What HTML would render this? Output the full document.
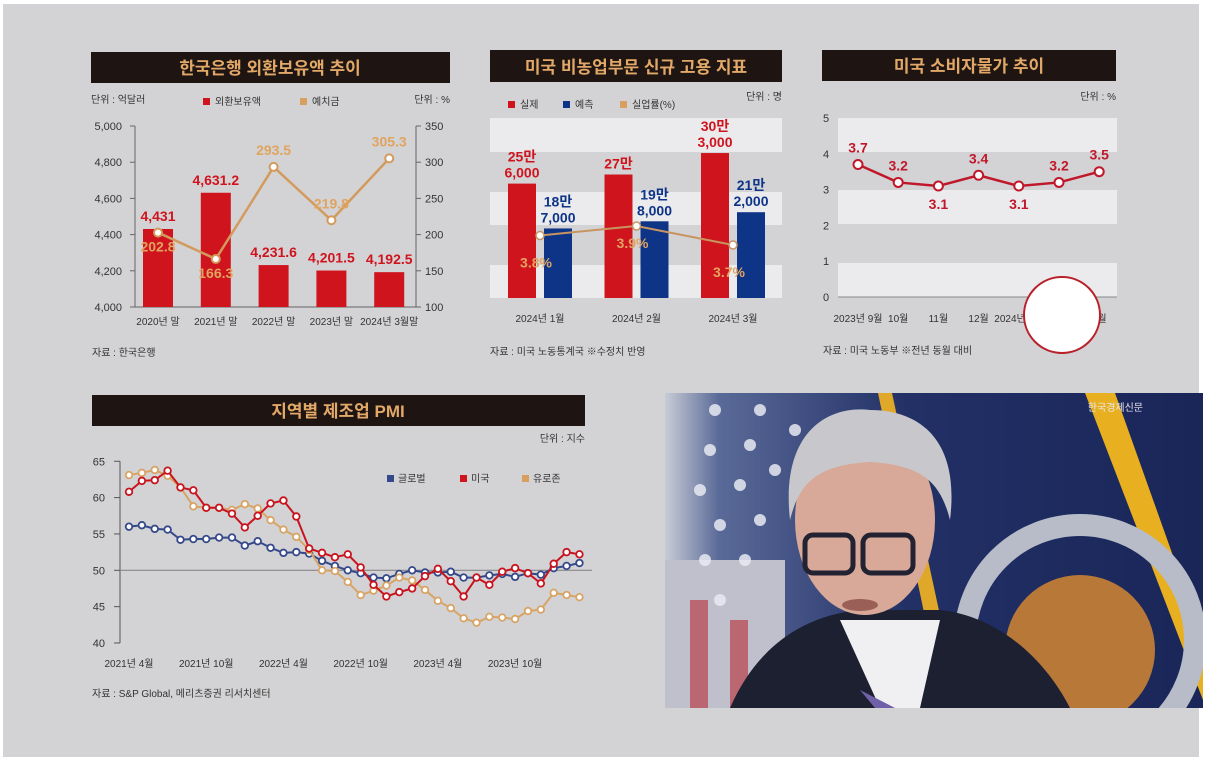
<!DOCTYPE html>
<html><head><meta charset="utf-8">
<style>
body{margin:0;width:1205px;height:761px;background:#fff;overflow:hidden;font-family:"Liberation Sans","Noto Sans CJK KR",sans-serif;}
svg text{font-family:"Liberation Sans","Noto Sans CJK KR",sans-serif;}
</style></head>
<body>
<svg id="root" width="1205" height="761" xmlns="http://www.w3.org/2000/svg">
<rect x="3" y="4" width="1196" height="753" fill="#d3d3d5"/>

<g id="c1">
<rect x="91" y="52" width="359" height="31" fill="#1e1512"/>
<text x="270" y="74" text-anchor="middle" font-size="17" font-weight="bold" fill="#e2a868">한국은행 외환보유액 추이</text>
<text x="91" y="103" font-size="10" fill="#333">단위 : 억달러</text>
<text x="450" y="103" text-anchor="end" font-size="10" fill="#333">단위 : %</text>
<rect x="203" y="98" width="7" height="7" fill="#d0141e"/>
<text x="215" y="105" font-size="10" fill="#333">외환보유액</text>
<rect x="300" y="98" width="7" height="7" fill="#d8a060"/>
<text x="312" y="105" font-size="10" fill="#333">예치금</text>
</g>

<g id="c2">
<rect x="490" y="50" width="292" height="32" fill="#1e1512"/>
<text x="636" y="73" text-anchor="middle" font-size="17" font-weight="bold" fill="#e2a868">미국 비농업부문 신규 고용 지표</text>
<text x="782" y="100" text-anchor="end" font-size="10" fill="#333">단위 : 명</text>
<rect x="508" y="101" width="7" height="7" fill="#d0141e"/>
<text x="520" y="108" font-size="10" fill="#333">실제</text>
<rect x="563" y="101" width="7" height="7" fill="#0e3488"/>
<text x="575" y="108" font-size="10" fill="#333">예측</text>
<rect x="620" y="101" width="7" height="7" fill="#d8a060"/>
<text x="632" y="108" font-size="10" fill="#333">실업률(%)</text>
<rect x="490" y="118" width="292" height="34" fill="#ebebed"/>
<rect x="490" y="192" width="292" height="33" fill="#ebebed"/>
<rect x="490" y="265" width="292" height="33" fill="#ebebed"/>
<text x="490" y="355" font-size="10" fill="#333">자료 : 미국 노동통계국 ※수정치 반영</text>
</g>

<g id="c3">
<rect x="822" y="50" width="294" height="31" fill="#1e1512"/>
<text x="969" y="72" text-anchor="middle" font-size="17" font-weight="bold" fill="#e2a868">미국 소비자물가 추이</text>
<text x="1116" y="100" text-anchor="end" font-size="10" fill="#333">단위 : %</text>
<rect x="838" y="118" width="279" height="34" fill="#ebebed"/>
<rect x="838" y="190" width="279" height="34" fill="#ebebed"/>
<rect x="838" y="263" width="279" height="34" fill="#ebebed"/>
<line x1="838" y1="297" x2="1117" y2="297" stroke="#888" stroke-width="1"/>
<text x="823" y="354" font-size="10" fill="#333">자료 : 미국 노동부 ※전년 동월 대비</text>
</g>

<g id="c4">
<rect x="92" y="395" width="493" height="31" fill="#1e1512"/>
<text x="338" y="417" text-anchor="middle" font-size="17" font-weight="bold" fill="#e2a868">지역별 제조업 PMI</text>
<text x="585" y="442" text-anchor="end" font-size="10" fill="#333">단위 : 지수</text>
<rect x="387" y="475" width="7" height="7" fill="#34488a"/>
<text x="398" y="482" font-size="10" fill="#333">글로벌</text>
<rect x="460" y="475" width="7" height="7" fill="#d0141e"/>
<text x="471" y="482" font-size="10" fill="#333">미국</text>
<rect x="522" y="475" width="7" height="7" fill="#d8a060"/>
<text x="533" y="482" font-size="10" fill="#333">유로존</text>
<text x="92" y="697" font-size="10" fill="#333">자료 : S&amp;P Global, 메리츠증권 리서치센터</text>
</g>

<g>
<defs>
<linearGradient id="bgG" x1="0" x2="1" y1="0" y2="0">
<stop offset="0" stop-color="#c8ccd6"/><stop offset="0.1" stop-color="#5a6a98"/><stop offset="0.45" stop-color="#223066"/><stop offset="1" stop-color="#1a2658"/>
</linearGradient>
<clipPath id="pc"><rect x="665" y="393" width="538" height="315"/></clipPath>
</defs>
<g clip-path="url(#pc)">
<rect x="665" y="393" width="538" height="315" fill="url(#bgG)"/>
<rect x="665" y="560" width="120" height="150" fill="#c0c0cc"/>
<rect x="690" y="600" width="18" height="110" fill="#b8505a" opacity="0.8"/>
<rect x="730" y="620" width="18" height="90" fill="#b8505a" opacity="0.8"/>
<g fill="#e8eaf2" opacity="0.85">
<circle cx="715" cy="410" r="6"/><circle cx="760" cy="410" r="6"/><circle cx="710" cy="450" r="6"/><circle cx="750" cy="445" r="6"/><circle cx="795" cy="430" r="6"/><circle cx="700" cy="490" r="6"/><circle cx="740" cy="485" r="6"/><circle cx="775" cy="470" r="6"/><circle cx="720" cy="525" r="6"/><circle cx="760" cy="520" r="6"/><circle cx="705" cy="560" r="6"/><circle cx="745" cy="560" r="6"/><circle cx="720" cy="600" r="6"/>
</g>
<polygon points="878,393 892,393 960,708 944,708" fill="#e0a828"/>
<polygon points="1085,393 1115,393 1203,640 1203,700" fill="#e8b020"/>
<circle cx="1080" cy="640" r="115" fill="none" stroke="#b8bcc8" stroke-width="22"/>
<circle cx="1080" cy="650" r="75" fill="#b87838"/>
<path d="M730,708 C760,640 810,615 860,610 L940,610 C990,615 1040,650 1070,708 Z" fill="#1c2030"/>
<path d="M840,620 L880,708 L920,708 L940,620 Z" fill="#f0f0f2"/>
<polygon points="860,690 895,708 875,708" fill="#7060a8"/>
<ellipse cx="865" cy="520" rx="70" ry="95" fill="#d8a898"/>
<path d="M790,520 C780,430 830,405 870,410 C920,410 960,440 950,520 C940,480 920,465 870,462 C820,465 800,480 790,520 Z" fill="#c8c8cc"/>
<rect x="805" y="535" width="48" height="38" rx="8" fill="none" stroke="#223" stroke-width="5"/>
<rect x="863" y="535" width="50" height="38" rx="8" fill="none" stroke="#223" stroke-width="5"/>
<ellipse cx="860" cy="605" rx="18" ry="6" fill="#9a6058"/>
</g>
<text x="1143" y="411" text-anchor="end" font-size="10" fill="#e8e8f0">한국경제신문</text>
</g>
<circle cx="1062" cy="315" r="38" fill="#fff" stroke="#b8202a" stroke-width="2"/>
</svg>

<script>
const NS="http://www.w3.org/2000/svg";
function mk(parent,tag,attrs,text){const e=document.createElementNS(NS,tag);for(const k in attrs)e.setAttribute(k,attrs[k]);if(text!==undefined)e.textContent=text;document.getElementById(parent).appendChild(e);return e;}

const c1Categories=["2020년 말","2021년 말","2022년 말","2023년 말","2024년 3월말"];
const c1Reserves=[4431,4631.2,4231.6,4201.5,4192.5];
const c1ReserveLabels=["4,431","4,631.2","4,231.6","4,201.5","4,192.5"];
const c1Deposits=[202.8,166.3,293.5,219.8,305.3];
const c1LeftTicks=[4000,4200,4400,4600,4800,5000];
const c1LeftTickLabels=["4,000","4,200","4,400","4,600","4,800","5,000"];
const c1RightTicks=[100,150,200,250,300,350];

const c2Categories=["2024년 1월","2024년 2월","2024년 3월"];
const c2Actual=[256000,270000,303000];
const c2ActualLabels=[["25만","6,000"],["27만"],["30만","3,000"]];
const c2Forecast=[187000,198000,212000];
const c2ForecastLabels=[["18만","7,000"],["19만","8,000"],["21만","2,000"]];
const c2Unemployment=[3.8,3.9,3.7];

const c3Categories=["2023년 9월","10월","11월","12월","2024년 1월","2월","3월"];
const c3Values=[3.7,3.2,3.1,3.4,3.1,3.2,3.5];
const c3Ticks=[0,1,2,3,4,5];

const c4Global=[56,56.2,55.7,55.6,54.2,54.3,54.3,54.5,54.5,53.4,54,53.1,52.4,52.5,52.3,51.3,50.6,50,49.6,49,48.9,49.5,50,49.7,49.7,49.8,49,49,49.3,49.5,49.1,49.6,49.4,50.3,50.6,51];
const c4US=[60.8,62.3,62.4,63.7,61.4,61,58.6,58.6,57.8,55.9,57.5,59.2,59.6,57.4,53,52.4,51.8,52.2,50.4,48,46.4,47,47.5,49.2,50.2,48.5,46.4,49,48,49.8,50.3,49.6,48.2,50.9,52.5,52.2];
const c4Euro=[63.1,63.4,63.8,63,61.4,58.8,58.6,58.6,58.3,59.1,58.5,56.9,55.6,54.6,52.8,50,49.9,48.4,46.6,47.2,47.9,49,48.6,47.3,45.8,44.8,43.4,42.8,43.6,43.5,43.3,44.4,44.6,46.9,46.6,46.3];
const c4Ticks=[40,45,50,55,60,65];
const c4XLabels=["2021년 4월","2021년 10월","2022년 4월","2022년 10월","2023년 4월","2023년 10월"];
const c4XLabelIdx=[0,6,12,18,24,30];

(function(){
  const y0=307,y1=126;
  const yL=v=>y0-(v-4000)/1000*(y0-y1);
  const yR=v=>y0-(v-100)/250*(y0-y1);
  const x=i=>158+i*57.8;
  mk("c1","line",{x1:135,y1:y1,x2:135,y2:y0,stroke:"#666","stroke-width":1});
  mk("c1","line",{x1:135,y1:y0,x2:416,y2:y0,stroke:"#666","stroke-width":1});
  mk("c1","line",{x1:416,y1:y1,x2:416,y2:y0,stroke:"#666","stroke-width":1});
  c1LeftTicks.forEach((t,i)=>{
    mk("c1","line",{x1:130,y1:yL(t),x2:135,y2:yL(t),stroke:"#666"});
    const e=mk("c1","text",{x:122,y:yL(t)+4,"text-anchor":"end","font-size":11,fill:"#333"},c1LeftTickLabels[i]);
    
    
  });
  c1RightTicks.forEach(t=>{
    mk("c1","line",{x1:416,y1:yR(t),x2:421,y2:yR(t),stroke:"#666"});
    const e=mk("c1","text",{x:425,y:yR(t)+4,"font-size":11,fill:"#333"},String(t));
    
    
  });
  c1Reserves.forEach((v,i)=>{
    const b=mk("c1","rect",{x:x(i)-15,y:yL(v),width:30,height:y0-yL(v),fill:"#d0141e"});
    
    
    const l=mk("c1","text",{x:x(i),y:yL(v)-8,"text-anchor":"middle","font-size":14,"font-weight":"bold",fill:"#d0141e"},c1ReserveLabels[i]);
    
    
    const c=mk("c1","text",{x:x(i),y:325,"text-anchor":"middle","font-size":10,fill:"#333"},c1Categories[i]);
    
    
  });
  const pts=c1Deposits.map((v,i)=>x(i)+","+yR(v)).join(" ");
  const pl=mk("c1","polyline",{points:pts,fill:"none",stroke:"#d39a5e","stroke-width":2.5});
  
  
  c1Deposits.forEach((v,i)=>{
    const p=mk("c1","circle",{cx:x(i),cy:yR(v),r:4,fill:"#fff",stroke:"#d39a5e","stroke-width":2});
    
    
    const below=i<2;
    const l=mk("c1","text",{x:x(i),y:below?yR(v)+19:yR(v)-12,"text-anchor":"middle","font-size":14,"font-weight":"bold",fill:"#e0a460"},v.toFixed(1));
    
    
  });
  const s=mk("c1","text",{x:92,y:356,"font-size":10,fill:"#333"},"자료 : 한국은행");
  
  
})();

(function(){
  const base=298;
  const h=v=>(v-80000)*0.00065;
  const cx=i=>540+i*96.5;
  const yU=v=>235.5-(v-3.8)*95;
  c2Actual.forEach((v,i)=>{
    const b=mk("c2","rect",{x:cx(i)-32,y:base-h(v),width:28,height:h(v),fill:"#d0141e"});
    
    
    const lines=c2ActualLabels[i];
    lines.forEach((t,j)=>{
      const l=mk("c2","text",{x:cx(i)-18,y:base-h(v)-6-(lines.length-1-j)*16,"text-anchor":"middle","font-size":14,"font-weight":"bold",fill:"#d0141e"},t);
      
      
    });
    const f=c2Forecast[i];
    const b2=mk("c2","rect",{x:cx(i)+4,y:base-h(f),width:28,height:h(f),fill:"#0e3488"});
    
    
    c2ForecastLabels[i].forEach((t,j)=>{
      const l=mk("c2","text",{x:cx(i)+18,y:base-h(f)-6-(1-j)*16,"text-anchor":"middle","font-size":14,"font-weight":"bold",fill:"#0e3488"},t);
      
      
    });
    const c=mk("c2","text",{x:cx(i),y:322,"text-anchor":"middle","font-size":10,fill:"#333"},c2Categories[i]);
    
    
  });
  const pts=c2Unemployment.map((v,i)=>cx(i)+","+yU(v)).join(" ");
  const pl=mk("c2","polyline",{points:pts,fill:"none",stroke:"#c89460","stroke-width":2});
  
  
  c2Unemployment.forEach((v,i)=>{
    const p=mk("c2","circle",{cx:cx(i),cy:yU(v),r:4,fill:"#fff",stroke:"#c89460","stroke-width":1.5});
    
    
    const l=mk("c2","text",{x:cx(i)-4,y:yU(v)+(i==1?22:32),"text-anchor":"middle","font-size":14,"font-weight":"bold",fill:"#e0a460"},v.toFixed(1)+"%");
    
    
  });
})();

(function(){
  const y=v=>297-v*35.8;
  const x=i=>858+i*40.2;
  c3Ticks.forEach(t=>{
    const e=mk("c3","text",{x:826,y:y(t)+4,"text-anchor":"middle","font-size":11,fill:"#333"},String(t));
    
    
  });
  c3Categories.forEach((c,i)=>{
    const e=mk("c3","text",{x:x(i),y:322,"text-anchor":"middle","font-size":10,fill:"#333"},c);
    
    
  });
  const pts=c3Values.map((v,i)=>x(i)+","+y(v)).join(" ");
  const pl=mk("c3","polyline",{points:pts,fill:"none",stroke:"#c0182a","stroke-width":2.5});
  
  
  const above=[1,1,0,1,0,1,1];
  c3Values.forEach((v,i)=>{
    const p=mk("c3","circle",{cx:x(i),cy:y(v),r:4.5,fill:"#fff",stroke:"#c0182a","stroke-width":2});
    
    
    const l=mk("c3","text",{x:x(i),y:above[i]?y(v)-12:y(v)+23,"text-anchor":"middle","font-size":14,"font-weight":"bold",fill:"#c0182a"},v.toFixed(1));
    
    
  });
})();

(function(){
  const y=v=>643-(v-40)*7.27;
  const x=i=>129+i*12.87;
  mk("c4","line",{x1:120,y1:y(65),x2:120,y2:y(40),stroke:"#555"});
  mk("c4","line",{x1:120,y1:y(50),x2:592,y2:y(50),stroke:"#888","stroke-width":1.2});
  c4Ticks.forEach(t=>{
    mk("c4","line",{x1:114,y1:y(t),x2:120,y2:y(t),stroke:"#555"});
    const e=mk("c4","text",{x:105,y:y(t)+4,"text-anchor":"end","font-size":11,fill:"#333"},String(t));
    
    
  });
  c4XLabels.forEach((t,k)=>{
    const e=mk("c4","text",{x:x(c4XLabelIdx[k]),y:667,"text-anchor":"middle","font-size":10,fill:"#333"},t);
    
    
  });
  const series=[[c4Global,"#34488a","global"],[c4Euro,"#d8a466","eurozone"],[c4US,"#c8141e","us"]];
  series.forEach(([data,col,nm])=>{
    const pl=mk("c4","polyline",{points:data.map((v,i)=>x(i)+","+y(v)).join(" "),fill:"none",stroke:col,"stroke-width":2});
    
    
    data.forEach((v,i)=>{
      const p=mk("c4","circle",{cx:x(i),cy:y(v),r:3.3,fill:"#fff",stroke:col,"stroke-width":1.8});
      
      
    });
  });
})();
</script>
</body></html>
